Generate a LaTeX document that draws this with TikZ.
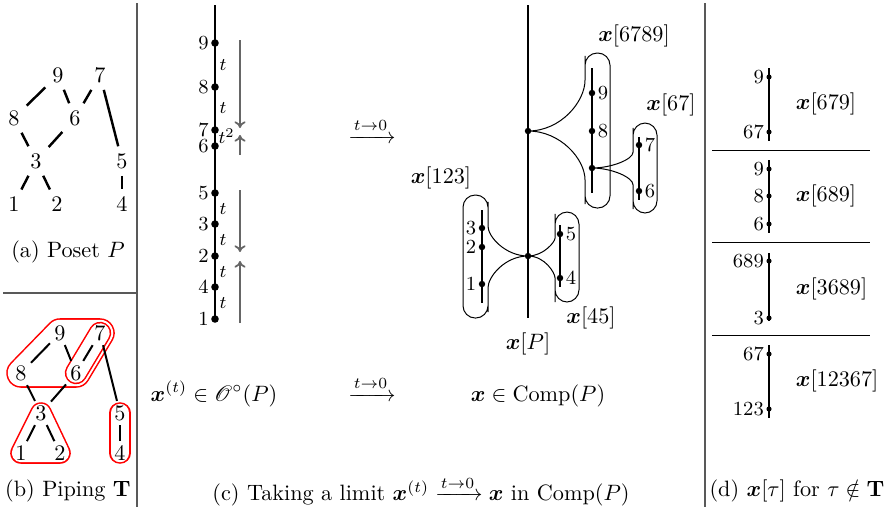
\documentclass[tikz,border=0pt]{standalone}
\usepackage{amsmath}
\usepackage{amssymb}
\usepackage{bm}
\usepackage{mathrsfs}
\usetikzlibrary{arrows.meta, backgrounds}
\newcommand{\bfx}{\boldsymbol{x}}

\begin{document}
\begin{tikzpicture}[
  x=0.45pt, y=-0.45pt,
  >={To[length=3pt, width=5pt]},
  pnum/.style={inner sep=3pt},
  tnum/.style={inner sep=1.8pt},
  pedge/.style={line width=1.1pt},
  tedge/.style={line width=0.9pt},
  sep/.style={black!65, line width=0.7pt},
  hull/.style={line join=round, line cap=round},
  cdot/.style={circle, fill, inner sep=0pt, minimum size=3.4pt},
  mdot/.style={circle, fill, inner sep=0pt, minimum size=2.9pt},
  ddot/.style={circle, fill, inner sep=0pt, minimum size=2.3pt},
  num/.style={font=\small, inner sep=0.8pt},
  tlab/.style={font=\footnotesize, inner sep=0.5pt, anchor=west},
  chain/.style={line width=0.8pt},
  dchain/.style={line width=0.6pt},
  garr/.style={->, black!60, line width=0.8pt},
  tubeln/.style={line width=0.45pt, rounded corners=5.5pt}
]
\useasboundingbox (0,0) rectangle (884,507);

% separators
\draw[sep] (137,3) -- (137,507);
\draw[sep] (705,3) -- (705,507);
\draw[sep] (3,293) -- (137,293);

% (a) poset P
\node[pnum] (a9) at (58,75) {9};
\node[pnum] (a7) at (100,75) {7};
\node[pnum] (a8) at (14,118) {8};
\node[pnum] (a6) at (75,118) {6};
\node[pnum] (a3) at (36,161) {3};
\node[pnum] (a5) at (122,161) {5};
\node[pnum] (a1) at (14,204) {1};
\node[pnum] (a2) at (57,204) {2};
\node[pnum] (a4) at (122,204) {4};
\draw[pedge] (a9) -- (a8);
\draw[pedge] (a9) -- (a6);
\draw[pedge] (a7) -- (a6);
\draw[pedge] (a7) -- (a5);
\draw[pedge] (a8) -- (a3);
\draw[pedge] (a6) -- (a3);
\draw[pedge] (a3) -- (a1);
\draw[pedge] (a3) -- (a2);
\draw[pedge] (a5) -- (a4);
\node (capa) at (68,252) {(a) Poset $P$};

% (b) piping T
\node[tnum] (b9) at (60,333) {9};
\node[tnum] (b7) at (100,333) {7};
\node[tnum] (b8) at (21,373) {8};
\node[tnum] (b6) at (76,373) {6};
\node[tnum] (b3) at (41,413) {3};
\node[tnum] (b5) at (120,413) {5};
\node[tnum] (b1) at (21,453) {1};
\node[tnum] (b2) at (60,453) {2};
\node[tnum] (b4) at (120,453) {4};
\begin{scope}[on background layer]
  \draw[hull, red, line width=13.3pt] (b8.center) -- (b9.center) -- (b7.center) -- (b6.center) -- cycle;
  \draw[hull, white, fill=white, line width=11.9pt] (b8.center) -- (b9.center) -- (b7.center) -- (b6.center) -- cycle;
  \draw[hull, red, line width=10.1pt] (b6.center) -- (b7.center);
  \draw[hull, white, line width=8.7pt] (b6.center) -- (b7.center);
  \draw[hull, red, line width=9.7pt] (b3.center) -- (b1.center) -- (b2.center) -- cycle;
  \draw[hull, white, fill=white, line width=8.3pt] (b3.center) -- (b1.center) -- (b2.center) -- cycle;
  \draw[hull, red, line width=9.7pt] (b5.center) -- (b4.center);
  \draw[hull, white, line width=8.3pt] (b5.center) -- (b4.center);
\end{scope}
\draw[tedge] (b9) -- (b8);
\draw[tedge] (b9) -- (b6);
\draw[tedge] (b7) -- (b6);
\draw[tedge] (b7) -- (b5);
\draw[tedge] (b8) -- (b3);
\draw[tedge] (b6) -- (b3);
\draw[tedge] (b3) -- (b1);
\draw[tedge] (b3) -- (b2);
\draw[tedge] (b5) -- (b4);
\node (capb) at (68,491) {(b) Piping $\mathbf{T}$};

% (c) the chain x^(t)
\coordinate (ctop) at (215,5);
\node[cdot] (c9) at (215,43) {};
\node[cdot] (c8) at (215,87) {};
\node[cdot] (c7) at (215,130) {};
\node[cdot] (c6) at (215,146) {};
\node[cdot] (c5) at (215,193) {};
\node[cdot] (c3) at (215,224) {};
\node[cdot] (c2) at (215,256) {};
\node[cdot] (c4) at (215,287) {};
\node[cdot] (c1) at (215,319) {};
\draw[chain] (ctop) -- (c1.center);
\node[num, anchor=east] (lc9) at (c9.west) {9};
\node[num, anchor=east] (lc8) at (c8.west) {8};
\node[num, anchor=east] (lc7) at (c7.west) {7};
\node[num, anchor=east] (lc6) at (c6.west) {6};
\node[num, anchor=east] (lc5) at (c5.west) {5};
\node[num, anchor=east] (lc3) at (c3.west) {3};
\node[num, anchor=east] (lc2) at (c2.west) {2};
\node[num, anchor=east] (lc4) at (c4.west) {4};
\node[num, anchor=east] (lc1) at (c1.west) {1};
\node[tlab] (t98) at (218,65) {$t$};
\node[tlab] (t87) at (218,108) {$t$};
\node[tlab] (t76) at (217,136) {$t^2$};
\node[tlab] (t53) at (218,209) {$t$};
\node[tlab] (t32) at (218,240) {$t$};
\node[tlab] (t24) at (218,272) {$t$};
\node[tlab] (t41) at (218,303) {$t$};
\coordinate (g1a) at (240,40);
\coordinate (g1b) at (240,128);
\coordinate (g2a) at (240,155);
\coordinate (g2b) at (240,135);
\coordinate (g3a) at (240,190);
\coordinate (g3b) at (240,252);
\coordinate (g4a) at (240,323);
\coordinate (g4b) at (240,261);
\draw[garr] (g1a) -- (g1b);
\draw[garr] (g2a) -- (g2b);
\draw[garr] (g3a) -- (g3b);
\draw[garr] (g4a) -- (g4b);
\node[anchor=base] (lim1) at (372,143) {$\xrightarrow{t\to0}$};

% (c) the limit x in Comp(P)
\coordinate (mtop) at (528,5);
\coordinate (mbot) at (528,318);
\draw[chain] (mtop) -- (mbot);
\node[mdot] (mA) at (528,131) {};
\node[mdot] (mB) at (528,256) {};

% x[6789]
\draw[tubeln] (mA.center) to[out=0,in=-90] (585,68) -- (585,53) -- (610,53)
  -- (610,208) -- (585,208) -- (585,192) to[out=90,in=0] (mA.center);
\coordinate (s1t) at (592,68);
\coordinate (s1b) at (592,193);
\draw[chain] (s1t) -- (s1b);
\node[mdot] (m9) at (592,93) {};
\node[mdot] (m8) at (592,131) {};
\node[mdot] (mC) at (592,168) {};
\node[num, anchor=west] (lm9) at (m9.east) {9};
\node[num, anchor=west] (lm8) at (m8.east) {8};

% x[67]
\draw[tubeln] (mC.center) to[out=0,in=-90] (633,140) -- (633,123) -- (657,123)
  -- (657,213) -- (633,213) -- (633,197) to[out=90,in=0] (mC.center);
\coordinate (s2t) at (639,137);
\coordinate (s2b) at (639,200);
\draw[chain] (s2t) -- (s2b);
\node[mdot] (m7) at (639,145) {};
\node[mdot] (m6) at (639,191) {};
\node[num, anchor=west] (lm7) at (m7.east) {7};
\node[num, anchor=west] (lm6) at (m6.east) {6};

% x[123]
\draw[tubeln] (mB.center) to[out=180,in=-90] (488,214) -- (488,195) -- (463,195)
  -- (463,318) -- (488,318) -- (488,300) to[out=90,in=180] (mB.center);
\coordinate (s3t) at (482,210);
\coordinate (s3b) at (482,303);
\draw[chain] (s3t) -- (s3b);
\node[mdot] (m3) at (482,228) {};
\node[mdot] (m2) at (482,247) {};
\node[mdot] (m1) at (482,284) {};
\node[num, anchor=east] (lm3) at (m3.west) {3};
\node[num, anchor=east] (lm2) at (m2.west) {2};
\node[num, anchor=east] (lm1) at (m1.west) {1};

% x[45]
\draw[tubeln] (mB.center) to[out=0,in=-90] (555,226) -- (555,212) -- (579,212)
  -- (579,302) -- (555,302) -- (555,290) to[out=90,in=0] (mB.center);
\coordinate (s4t) at (560,225);
\coordinate (s4b) at (560,287);
\draw[chain] (s4t) -- (s4b);
\node[mdot] (m5) at (560,234) {};
\node[mdot] (m4) at (560,278) {};
\node[num, anchor=west] (lm5) at (m5.east) {5};
\node[num, anchor=west] (lm4) at (m4.east) {4};

\node (lx6789) at (634,36) {$\bfx[6789]$};
\node (lx67) at (671,105) {$\bfx[67]$};
\node (lx123) at (441,178) {$\bfx[123]$};
\node (lx45) at (591,318) {$\bfx[45]$};
\node (lxP) at (528,344) {$\bfx[P]$};

% bottom row
\node[anchor=base] (xt) at (214,401) {$\bfx^{(t)}\in\mathscr{O}^\circ(P)$};
\node[anchor=base] (lim2) at (372,401) {$\xrightarrow{t\to0}$};
\node[anchor=base] (xc) at (538,401) {$\bfx\in\mathrm{Comp}(P)$};
\node (capc) at (421,491) {(c) Taking a limit $\bfx^{(t)}\xrightarrow{t\to0}\bfx$ in $\mathrm{Comp}(P)$};

% (d) x[tau] for tau not in T
\draw[thin] (712,150) -- (870,150);
\draw[thin] (712,242) -- (870,242);
\draw[thin] (712,335) -- (870,335);

\coordinate (d1t) at (769,68);
\coordinate (d1b) at (769,141);
\draw[dchain] (d1t) -- (d1b);
\node[ddot] (d1u) at (769,77) {};
\node[ddot] (d1l) at (769,132) {};
\node[num, anchor=east] (ld1u) at (d1u.west) {9};
\node[num, anchor=east] (ld1l) at (d1l.west) {67};
\node[anchor=west] (lx679) at (788,104) {$\bfx[679]$};

\coordinate (d2t) at (769,160);
\coordinate (d2b) at (769,233);
\draw[dchain] (d2t) -- (d2b);
\node[ddot] (d2u) at (769,169) {};
\node[ddot] (d2m) at (769,196) {};
\node[ddot] (d2l) at (769,224) {};
\node[num, anchor=east] (ld2u) at (d2u.west) {9};
\node[num, anchor=east] (ld2m) at (d2m.west) {8};
\node[num, anchor=east] (ld2l) at (d2l.west) {6};
\node[anchor=west] (lx689) at (788,196) {$\bfx[689]$};

\coordinate (d3t) at (769,253);
\coordinate (d3b) at (769,321);
\draw[dchain] (d3t) -- (d3b);
\node[ddot] (d3u) at (769,261) {};
\node[ddot] (d3l) at (769,318) {};
\node[num, anchor=east] (ld3u) at (d3u.west) {689};
\node[num, anchor=east] (ld3l) at (d3l.west) {3};
\node[anchor=west] (lx3689) at (788,289) {$\bfx[3689]$};

\coordinate (d4t) at (769,345);
\coordinate (d4b) at (769,418);
\draw[dchain] (d4t) -- (d4b);
\node[ddot] (d4u) at (769,354) {};
\node[ddot] (d4l) at (769,409) {};
\node[num, anchor=east] (ld4u) at (d4u.west) {67};
\node[num, anchor=east] (ld4l) at (d4l.west) {123};
\node[anchor=west] (lx12367) at (788,381) {$\bfx[12367]$};

\node (capd) at (797,491) {(d) $\bfx[\tau]$ for $\tau\notin\mathbf{T}$};
\end{tikzpicture}
\end{document}
